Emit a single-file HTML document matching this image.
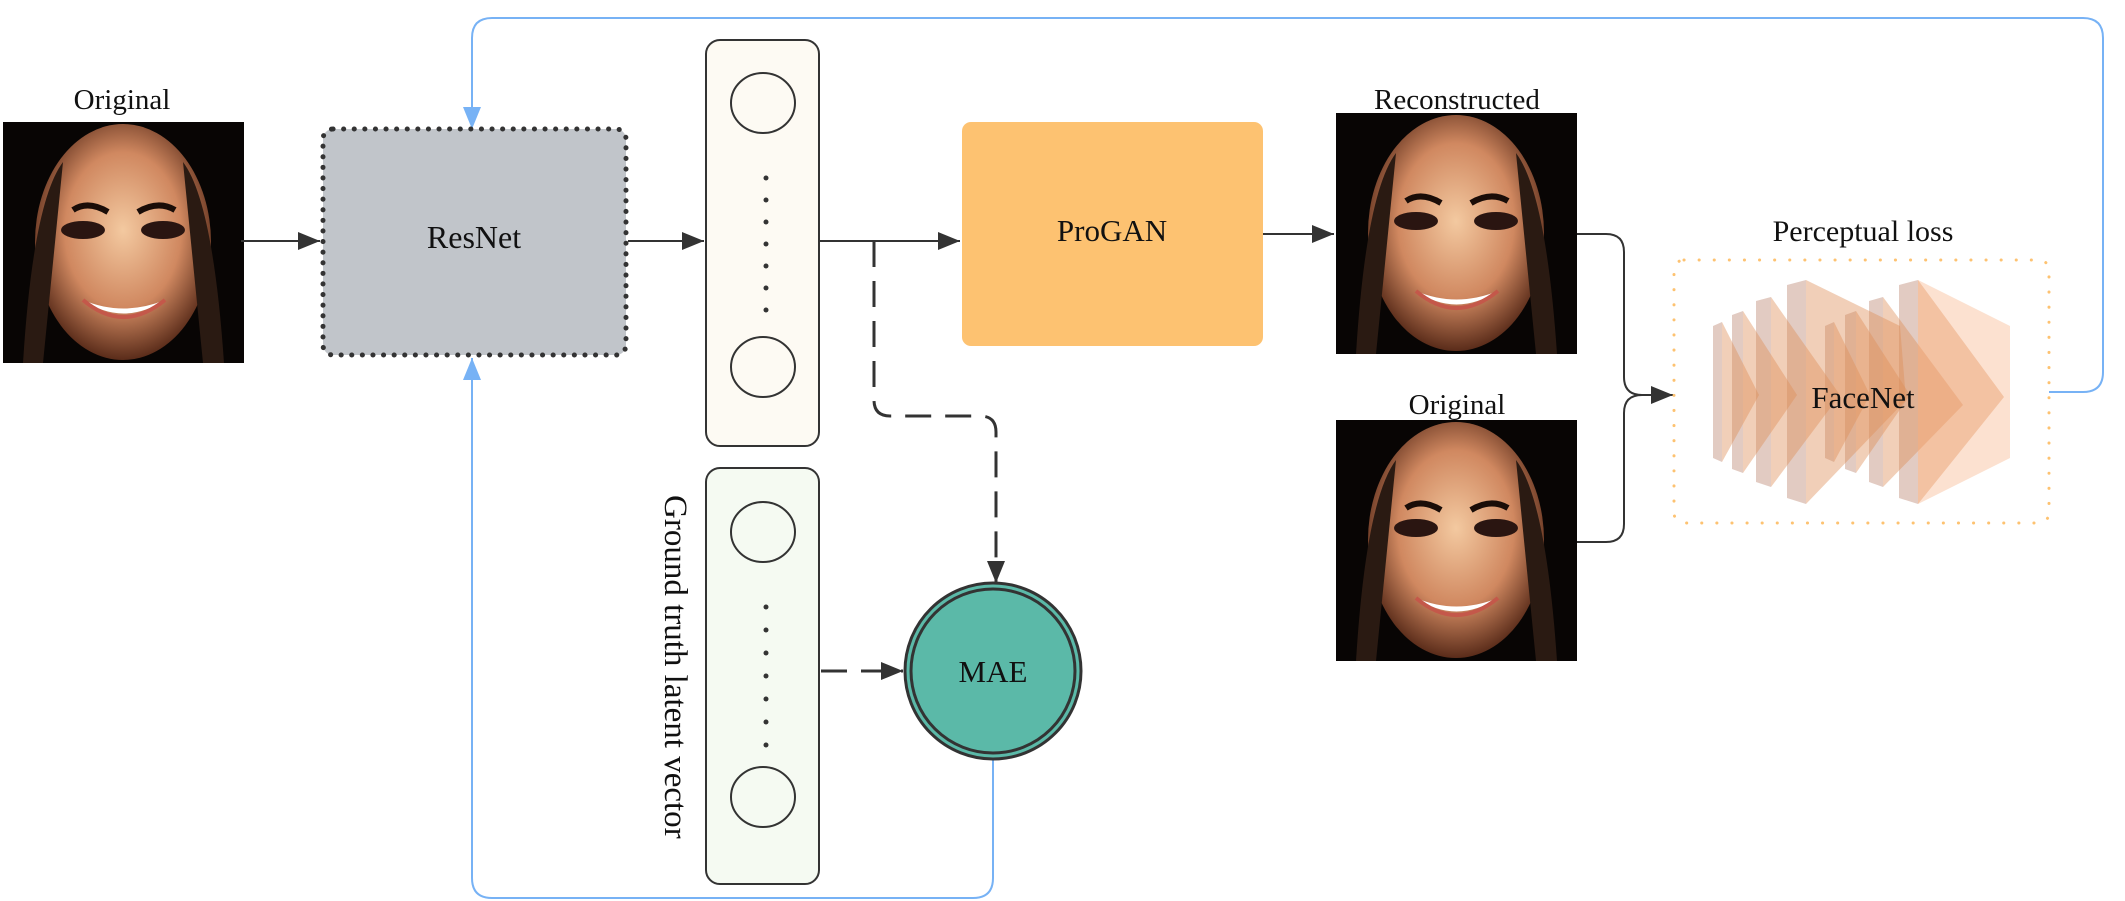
<!DOCTYPE html>
<html><head><meta charset="utf-8"><style>html,body{margin:0;padding:0;background:#fff}svg{display:block}text{font-family:"Liberation Serif",serif;fill:#111}</style></head>
<body>
<svg width="2125" height="901" viewBox="0 0 2125 901" xmlns="http://www.w3.org/2000/svg">
<defs>
<marker id="ah" viewBox="0 0 10 10" refX="10" refY="5" markerWidth="22" markerHeight="18" markerUnits="userSpaceOnUse" orient="auto" preserveAspectRatio="none"><path d="M0,0 L10,5 L0,10z" fill="#333"/></marker>
<marker id="ahb" viewBox="0 0 10 10" refX="10" refY="5" markerWidth="22" markerHeight="18" markerUnits="userSpaceOnUse" orient="auto" preserveAspectRatio="none"><path d="M0,0 L10,5 L0,10z" fill="#77b2f5"/></marker>
<radialGradient id="skin" cx="50%" cy="45%" r="55%"><stop offset="0" stop-color="#f3c9a0"/><stop offset="0.6" stop-color="#d08860"/><stop offset="1" stop-color="#5a2c1a"/></radialGradient>
<g id="face">
<rect x="0" y="0" width="241" height="241" fill="#080504"/>
<ellipse cx="120" cy="120" rx="88" ry="118" fill="url(#skin)"/>
<path d="M20,241 Q30,80 60,40 L40,241z" fill="#2a1a12"/>
<path d="M221,241 Q210,80 180,40 L200,241z" fill="#2a1a12"/>
<ellipse cx="80" cy="108" rx="22" ry="9" fill="#2a1511"/>
<ellipse cx="160" cy="108" rx="22" ry="9" fill="#2a1511"/>
<path d="M70,88 Q85,78 105,90" stroke="#1a0d08" stroke-width="6" fill="none"/>
<path d="M135,90 Q155,78 172,88" stroke="#1a0d08" stroke-width="6" fill="none"/>
<path d="M80,178 Q120,205 162,178 Q120,195 80,178z" fill="#fff"/>
<path d="M80,178 Q120,212 162,178" stroke="#c4584a" stroke-width="4" fill="none"/>
</g>
</defs>

<path d="M2049,392 H2083 Q2103,392 2103,372 V38 Q2103,18 2083,18 H492 Q472,18 472,38 V129" fill="none" stroke="#77b2f5" stroke-width="2" marker-end="url(#ahb)"/>
<path d="M993,759 V878 Q993,898 973,898 H492 Q472,898 472,878 V358" fill="none" stroke="#77b2f5" stroke-width="2" marker-end="url(#ahb)"/>

<text x="122" y="109" font-size="29" text-anchor="middle">Original</text>
<use href="#face" x="3" y="122"/>

<rect x="323" y="129" width="303" height="226" rx="10" fill="#c1c5ca" stroke="#333" stroke-width="5" stroke-dasharray="0.1 10.5" stroke-linecap="round"/>
<text x="474" y="248" font-size="32" text-anchor="middle">ResNet</text>
<line x1="241" y1="241" x2="320" y2="241" stroke="#333" stroke-width="2" marker-end="url(#ah)"/>
<line x1="628" y1="241" x2="704" y2="241" stroke="#333" stroke-width="2" marker-end="url(#ah)"/>

<rect x="706" y="40" width="113" height="406" rx="14" fill="#fdfaf3" stroke="#333" stroke-width="2"/>
<ellipse cx="763" cy="103" rx="32" ry="30" fill="none" stroke="#333" stroke-width="2"/>
<ellipse cx="763" cy="367" rx="32" ry="30" fill="none" stroke="#333" stroke-width="2"/>
<g fill="#333"><circle cx="766" cy="178" r="2.5"/><circle cx="766" cy="200" r="2.5"/><circle cx="766" cy="222" r="2.5"/><circle cx="766" cy="244" r="2.5"/><circle cx="766" cy="266" r="2.5"/><circle cx="766" cy="288" r="2.5"/><circle cx="766" cy="310" r="2.5"/></g>

<rect x="706" y="468" width="113" height="416" rx="14" fill="#f5faf2" stroke="#333" stroke-width="2"/>
<ellipse cx="763" cy="532" rx="32" ry="30" fill="none" stroke="#333" stroke-width="2"/>
<ellipse cx="763" cy="797" rx="32" ry="30" fill="none" stroke="#333" stroke-width="2"/>
<g fill="#333"><circle cx="766" cy="607" r="2.5"/><circle cx="766" cy="630" r="2.5"/><circle cx="766" cy="653" r="2.5"/><circle cx="766" cy="676" r="2.5"/><circle cx="766" cy="699" r="2.5"/><circle cx="766" cy="722" r="2.5"/><circle cx="766" cy="745" r="2.5"/></g>
<text x="0" y="0" font-size="33" transform="translate(665,495) rotate(90)">Ground truth latent vector</text>

<line x1="819" y1="241" x2="960" y2="241" stroke="#333" stroke-width="2" marker-end="url(#ah)"/>
<path d="M874,241 V400 Q874,416 890,416 H980 Q996,416 996,432 V583" fill="none" stroke="#333" stroke-width="3" stroke-dasharray="26 14" marker-end="url(#ah)"/>
<path d="M821,671 H903" fill="none" stroke="#333" stroke-width="3" stroke-dasharray="26 14" marker-end="url(#ah)"/>

<circle cx="993" cy="671" r="88" fill="#5bb9a8" stroke="#333" stroke-width="3"/>
<circle cx="993" cy="671" r="82" fill="none" stroke="#333" stroke-width="3"/>
<text x="993" y="682" font-size="31" text-anchor="middle">MAE</text>

<rect x="962" y="122" width="301" height="224" rx="9" fill="#fdc271"/>
<text x="1112" y="241" font-size="31" text-anchor="middle">ProGAN</text>
<line x1="1263" y1="234" x2="1334" y2="234" stroke="#333" stroke-width="2" marker-end="url(#ah)"/>

<text x="1457" y="109" font-size="29" text-anchor="middle">Reconstructed</text>
<use href="#face" x="1336" y="113"/>
<text x="1457" y="414" font-size="29" text-anchor="middle">Original</text>
<use href="#face" x="1336" y="420"/>

<path d="M1577,234 H1606 Q1624,234 1624,252 V377 Q1624,395 1642,395 H1673" fill="none" stroke="#333" stroke-width="2" marker-end="url(#ah)"/>
<path d="M1577,542 H1606 Q1624,542 1624,524 V413 Q1624,395 1642,395" fill="none" stroke="#333" stroke-width="2"/>

<text x="1863" y="241" font-size="30" text-anchor="middle">Perceptual loss</text>
<rect x="1674" y="260" width="375" height="263" rx="10" fill="none" stroke="#fdc271" stroke-width="3" stroke-dasharray="0.1 15" stroke-linecap="round"/>
<g>
<g fill="rgba(190,140,120,0.45)">
<path d="M1713,326 L1722,322 L1722,462 L1713,458z"/>
<path d="M1732,315 L1743,311 L1743,473 L1732,469z"/>
<path d="M1756,301 L1771,297 L1771,487 L1756,482z"/>
<path d="M1787,285 L1806,280 L1806,504 L1787,498z"/>
<path d="M1825,326 L1834,322 L1834,462 L1825,458z"/>
<path d="M1845,315 L1856,311 L1856,473 L1845,469z"/>
<path d="M1869,301 L1883,297 L1883,487 L1869,482z"/>
<path d="M1899,285 L1918,280 L1918,504 L1899,498z"/>
</g>
<g fill="rgba(222,140,85,0.42)">
<path d="M1722,322 L1759,395 L1722,462z"/>
<path d="M1743,311 L1797,395 L1743,473z"/>
<path d="M1771,297 L1840,395 L1771,487z"/>
<path d="M1806,280 L1900,326 L1906,400 L1806,504z"/>
<path d="M1834,322 L1870,395 L1834,462z"/>
<path d="M1856,311 L1910,395 L1856,473z"/>
<path d="M1883,297 L1963,405 L1883,487z"/>
<path d="M1918,280 L2004,397 L1918,504z"/>
</g>
<path d="M1918,280 L2010,326 L2010,458 L1918,504z" fill="rgba(245,170,120,0.35)"/>
</g>
<text x="1863" y="408" font-size="31" text-anchor="middle">FaceNet</text>
</svg>
</body></html>
